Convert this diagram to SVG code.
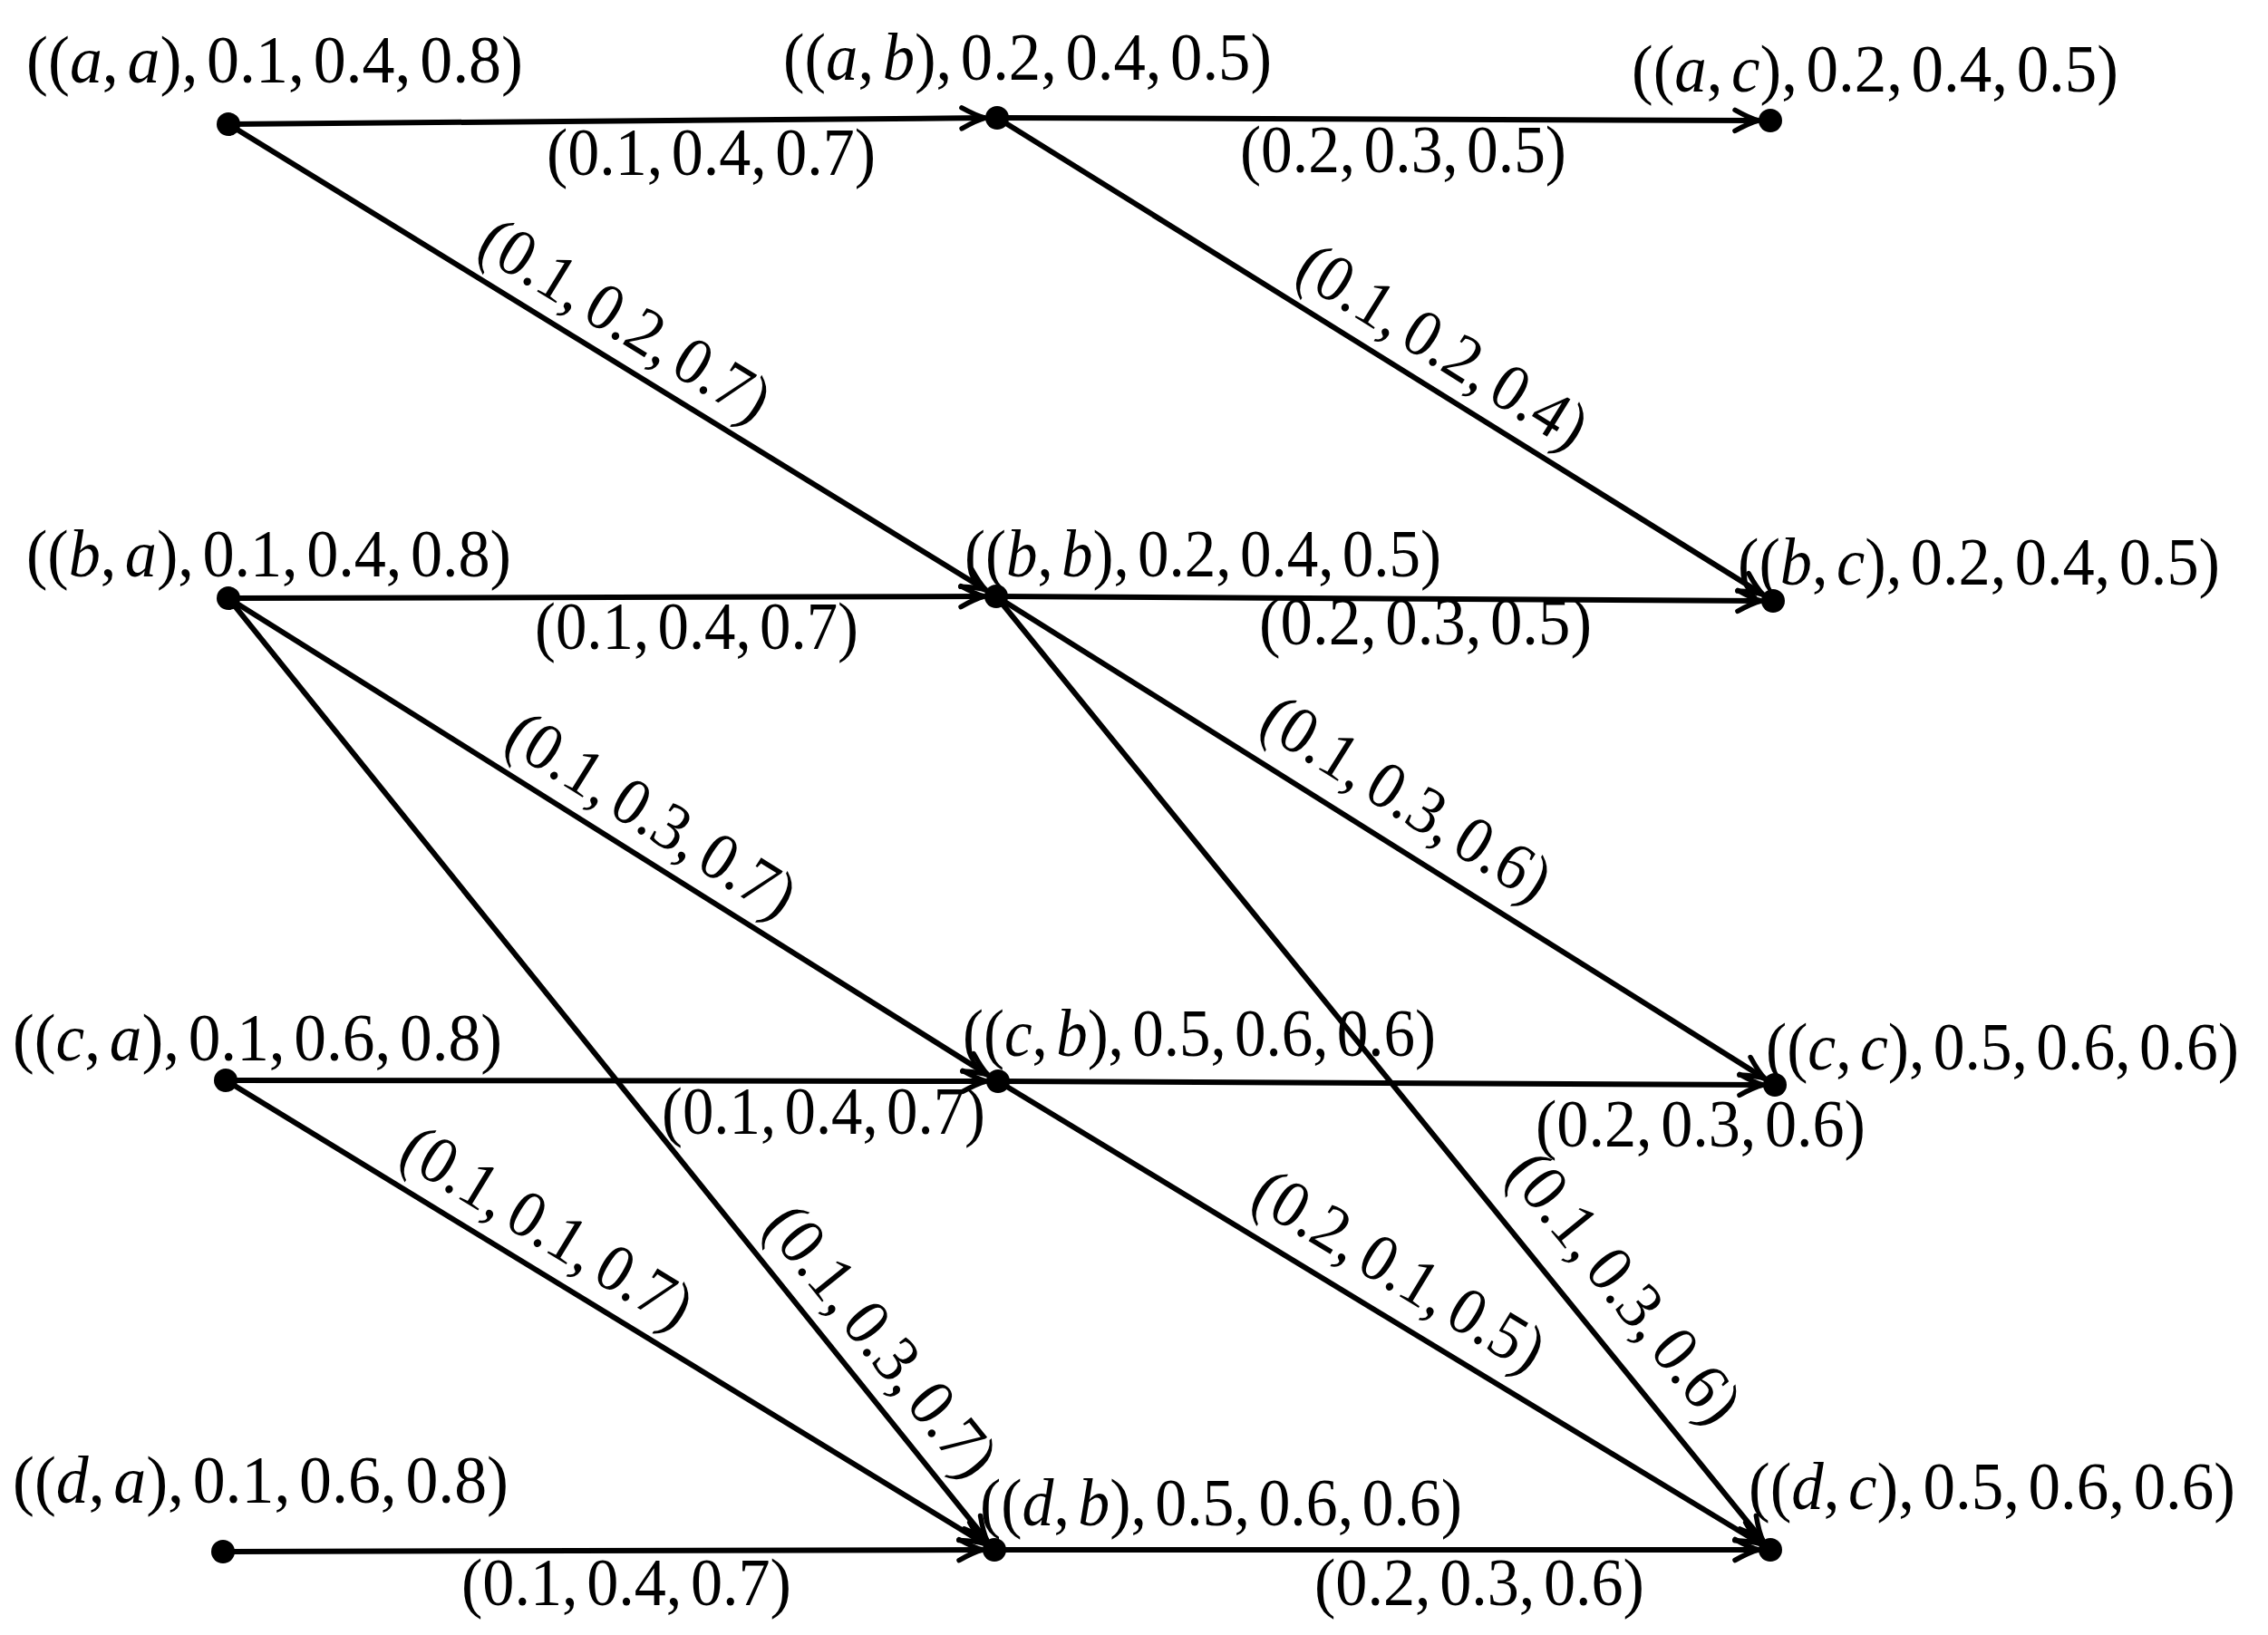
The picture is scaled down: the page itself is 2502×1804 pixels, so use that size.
<svg xmlns="http://www.w3.org/2000/svg" width="2502" height="1804" viewBox="0 0 2502 1804">
<style>
text{font-family:"Liberation Serif","Times New Roman",serif;font-size:74px;fill:#000}
.i{font-style:italic}
.e{stroke:#000;stroke-width:6;fill:none;marker-end:url(#arr)}
.d{fill:#000}
</style>
<defs>
<marker id="arr" markerUnits="userSpaceOnUse" markerWidth="50" markerHeight="50" viewBox="-36 -25 50 50" refX="0" refY="0" orient="auto" overflow="visible">
<path d="M -26,-11.5 Q -10,-2.5 0,0 Q -10,2.5 -26,11.5" fill="none" stroke="#000" stroke-width="5.5" stroke-linecap="round" stroke-linejoin="round"/>
</marker>
</defs>
<rect width="2502" height="1804" fill="#fff"/>
<g id="connectors">
<g id="e-aa-ab"><line class="e" x1="252" y1="137" x2="1087" y2="130.1"/><text x="603" y="193" textLength="363" lengthAdjust="spacingAndGlyphs">(0.1,<tspan dx="10">0.4,</tspan><tspan dx="10">0.7)</tspan></text></g>
<g id="e-ab-ac"><line class="e" x1="1100" y1="130" x2="1940" y2="133"/><text x="1368" y="190" textLength="360" lengthAdjust="spacingAndGlyphs">(0.2,<tspan dx="10">0.3,</tspan><tspan dx="10">0.5)</tspan></text></g>
<g id="e-aa-bb"><line class="e" x1="252" y1="137" x2="1087.9" y2="651.2"/><text x="686" y="376" text-anchor="middle" textLength="362" lengthAdjust="spacingAndGlyphs" transform="rotate(31.6 686 359)">(0.1,<tspan dx="10">0.2,</tspan><tspan dx="10">0.7)</tspan></text></g>
<g id="e-ab-bc"><line class="e" x1="1100" y1="130" x2="1945" y2="656.1"/><text x="1588" y="405" text-anchor="middle" textLength="362" lengthAdjust="spacingAndGlyphs" transform="rotate(31.9 1588 388)">(0.1,<tspan dx="10">0.2,</tspan><tspan dx="10">0.4)</tspan></text></g>
<g id="e-ba-bb"><line class="e" x1="252" y1="660" x2="1086" y2="658"/><text x="590" y="716" textLength="357" lengthAdjust="spacingAndGlyphs">(0.1,<tspan dx="10">0.4,</tspan><tspan dx="10">0.7)</tspan></text></g>
<g id="e-bb-bc"><line class="e" x1="1099" y1="658" x2="1943" y2="663"/><text x="1389" y="711" textLength="367" lengthAdjust="spacingAndGlyphs">(0.2,<tspan dx="10">0.3,</tspan><tspan dx="10">0.5)</tspan></text></g>
<g id="e-ba-cb"><line class="e" x1="252" y1="660" x2="1090" y2="1186.1"/><text x="715" y="922" text-anchor="middle" textLength="362" lengthAdjust="spacingAndGlyphs" transform="rotate(32.1 715 905)">(0.1,<tspan dx="10">0.3,</tspan><tspan dx="10">0.7)</tspan></text></g>
<g id="e-ba-db"><line class="e" x1="252" y1="660" x2="1088.9" y2="1699.9"/><text x="967" y="1501" text-anchor="middle" textLength="362" lengthAdjust="spacingAndGlyphs" transform="rotate(51.2 967 1484)">(0.1,<tspan dx="10">0.3,</tspan><tspan dx="10">0.7)</tspan></text></g>
<g id="e-bb-cc"><line class="e" x1="1099" y1="658" x2="1947" y2="1190.1"/><text x="1548" y="904" text-anchor="middle" textLength="362" lengthAdjust="spacingAndGlyphs" transform="rotate(32.1 1548 887)">(0.1,<tspan dx="10">0.3,</tspan><tspan dx="10">0.6)</tspan></text></g>
<g id="e-bb-dc"><line class="e" x1="1099" y1="658" x2="1944.8" y2="1699.9"/><text x="1787" y="1442" text-anchor="middle" textLength="362" lengthAdjust="spacingAndGlyphs" transform="rotate(50.9 1787 1425)">(0.1,<tspan dx="10">0.3,</tspan><tspan dx="10">0.6)</tspan></text></g>
<g id="e-ca-cb"><line class="e" x1="249" y1="1192" x2="1088" y2="1193"/><text x="730" y="1251" textLength="357" lengthAdjust="spacingAndGlyphs">(0.1,<tspan dx="10">0.4,</tspan><tspan dx="10">0.7)</tspan></text></g>
<g id="e-cb-cc"><line class="e" x1="1101" y1="1193" x2="1945" y2="1197"/><text x="1694" y="1265" textLength="364" lengthAdjust="spacingAndGlyphs">(0.2,<tspan dx="10">0.3,</tspan><tspan dx="10">0.6)</tspan></text></g>
<g id="e-ca-db"><line class="e" x1="249" y1="1192" x2="1085.9" y2="1703.2"/><text x="600" y="1377" text-anchor="middle" textLength="362" lengthAdjust="spacingAndGlyphs" transform="rotate(31.4 600 1360)">(0.1,<tspan dx="10">0.1,</tspan><tspan dx="10">0.7)</tspan></text></g>
<g id="e-cb-dc"><line class="e" x1="1101" y1="1193" x2="1941.9" y2="1703.3"/><text x="1540" y="1425" text-anchor="middle" textLength="362" lengthAdjust="spacingAndGlyphs" transform="rotate(31.25 1540 1408)">(0.2,<tspan dx="10">0.1,</tspan><tspan dx="10">0.5)</tspan></text></g>
<g id="e-da-db"><line class="e" x1="246" y1="1712" x2="1084" y2="1710"/><text x="509" y="1771" textLength="364" lengthAdjust="spacingAndGlyphs">(0.1,<tspan dx="10">0.4,</tspan><tspan dx="10">0.7)</tspan></text></g>
<g id="e-db-dc"><line class="e" x1="1097" y1="1710" x2="1940" y2="1710"/><text x="1450" y="1771" textLength="364" lengthAdjust="spacingAndGlyphs">(0.2,<tspan dx="10">0.3,</tspan><tspan dx="10">0.6)</tspan></text></g>
</g>
<g id="n-aa"><circle class="d" cx="252" cy="137" r="13"/><text x="29" y="91" textLength="548" lengthAdjust="spacingAndGlyphs">((<tspan class="i">a</tspan>,<tspan class="i" dx="10">a</tspan>),<tspan dx="10">0.1,</tspan><tspan dx="10">0.4,</tspan><tspan dx="10">0.8)</tspan></text></g>
<g id="n-ab"><circle class="d" cx="1100" cy="130" r="13"/><text x="864" y="88" textLength="539" lengthAdjust="spacingAndGlyphs">((<tspan class="i">a</tspan>,<tspan class="i" dx="10">b</tspan>),<tspan dx="10">0.2,</tspan><tspan dx="10">0.4,</tspan><tspan dx="10">0.5)</tspan></text></g>
<g id="n-ac"><circle class="d" cx="1953" cy="133" r="13"/><text x="1800" y="101" textLength="537" lengthAdjust="spacingAndGlyphs">((<tspan class="i">a</tspan>,<tspan class="i" dx="10">c</tspan>),<tspan dx="10">0.2,</tspan><tspan dx="10">0.4,</tspan><tspan dx="10">0.5)</tspan></text></g>
<g id="n-ba"><circle class="d" cx="252" cy="660" r="13"/><text x="29" y="636" textLength="535" lengthAdjust="spacingAndGlyphs">((<tspan class="i">b</tspan>,<tspan class="i" dx="10">a</tspan>),<tspan dx="10">0.1,</tspan><tspan dx="10">0.4,</tspan><tspan dx="10">0.8)</tspan></text></g>
<g id="n-bb"><circle class="d" cx="1099" cy="658" r="13"/><text x="1064" y="636" textLength="526" lengthAdjust="spacingAndGlyphs">((<tspan class="i">b</tspan>,<tspan class="i" dx="10">b</tspan>),<tspan dx="10">0.2,</tspan><tspan dx="10">0.4,</tspan><tspan dx="10">0.5)</tspan></text></g>
<g id="n-bc"><circle class="d" cx="1956" cy="663" r="13"/><text x="1917" y="645" textLength="532" lengthAdjust="spacingAndGlyphs">((<tspan class="i">b</tspan>,<tspan class="i" dx="10">c</tspan>),<tspan dx="10">0.2,</tspan><tspan dx="10">0.4,</tspan><tspan dx="10">0.5)</tspan></text></g>
<g id="n-ca"><circle class="d" cx="249" cy="1192" r="13"/><text x="14" y="1170" textLength="540" lengthAdjust="spacingAndGlyphs">((<tspan class="i">c</tspan>,<tspan class="i" dx="10">a</tspan>),<tspan dx="10">0.1,</tspan><tspan dx="10">0.6,</tspan><tspan dx="10">0.8)</tspan></text></g>
<g id="n-cb"><circle class="d" cx="1101" cy="1193" r="13"/><text x="1062" y="1165" textLength="522" lengthAdjust="spacingAndGlyphs">((<tspan class="i">c</tspan>,<tspan class="i" dx="10">b</tspan>),<tspan dx="10">0.5,</tspan><tspan dx="10">0.6,</tspan><tspan dx="10">0.6)</tspan></text></g>
<g id="n-cc"><circle class="d" cx="1958" cy="1197" r="13"/><text x="1948" y="1180" textLength="522" lengthAdjust="spacingAndGlyphs">((<tspan class="i">c</tspan>,<tspan class="i" dx="10">c</tspan>),<tspan dx="10">0.5,</tspan><tspan dx="10">0.6,</tspan><tspan dx="10">0.6)</tspan></text></g>
<g id="n-da"><circle class="d" cx="246" cy="1712" r="13"/><text x="14" y="1658" textLength="547" lengthAdjust="spacingAndGlyphs">((<tspan class="i">d</tspan>,<tspan class="i" dx="10">a</tspan>),<tspan dx="10">0.1,</tspan><tspan dx="10">0.6,</tspan><tspan dx="10">0.8)</tspan></text></g>
<g id="n-db"><circle class="d" cx="1097" cy="1710" r="13"/><text x="1081" y="1683" textLength="532" lengthAdjust="spacingAndGlyphs">((<tspan class="i">d</tspan>,<tspan class="i" dx="10">b</tspan>),<tspan dx="10">0.5,</tspan><tspan dx="10">0.6,</tspan><tspan dx="10">0.6)</tspan></text></g>
<g id="n-dc"><circle class="d" cx="1953" cy="1710" r="13"/><text x="1929" y="1665" textLength="537" lengthAdjust="spacingAndGlyphs">((<tspan class="i">d</tspan>,<tspan class="i" dx="10">c</tspan>),<tspan dx="10">0.5,</tspan><tspan dx="10">0.6,</tspan><tspan dx="10">0.6)</tspan></text></g>
</svg>
